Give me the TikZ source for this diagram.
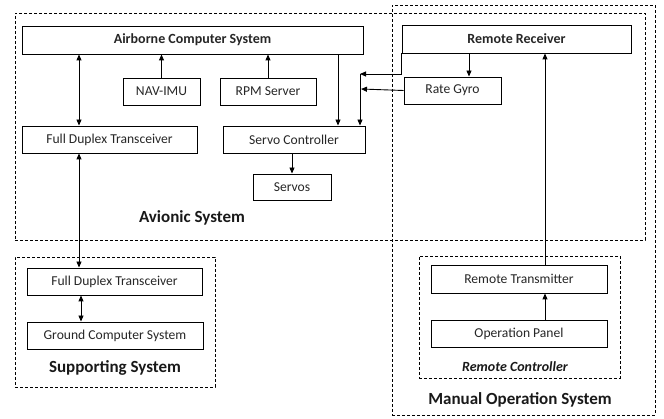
\documentclass[tikz,border=0pt]{standalone}
\usepackage{fontspec}
\setmainfont{Carlito}
\usetikzlibrary{arrows.meta}
\begin{document}
\begin{tikzpicture}[x=1pt,y=-1pt,
  blk/.style={draw, line width=0.9pt, inner sep=0pt, text=black!85, font=\fontsize{13.6}{15}\selectfont},
  bblk/.style={blk, font=\bfseries\fontsize{14}{16}\selectfont},
  grp/.style={draw, line width=0.8pt, dash pattern=on 3pt off 2pt, inner sep=0pt},
  ttl/.style={font=\bfseries\fontsize{17}{19}\selectfont, text=black!90},
  arr/.style={line width=0.9pt, -{Triangle[length=6pt,width=5pt]}},
  darr/.style={line width=0.9pt, {Triangle[length=6pt,width=5pt]}-{Triangle[length=6pt,width=5pt]}}]
\useasboundingbox (0,0) rectangle (664,419);
% groups
\node[grp, minimum width=630pt, minimum height=227pt] (avionic) at (330,126.5) {};
\node[grp, minimum width=263pt, minimum height=410pt] (manual) at (523.5,210) {};
\node[grp, minimum width=200pt, minimum height=130pt] (support) at (115,322) {};
\node[grp, minimum width=201pt, minimum height=122pt] (rc) at (519.5,317) {};
% blocks
\node[bblk, minimum width=341pt, minimum height=28pt] (acs) at (192.5,40) {Airborne Computer System};
\node[blk, minimum width=77pt, minimum height=27pt] (nav) at (161.5,91.5) {NAV-IMU};
\node[blk, minimum width=96pt, minimum height=27pt] (rpm) at (268,91.5) {RPM Server};
\node[blk, minimum width=175pt, minimum height=27pt] (fdt1) at (109.5,139.5) {Full Duplex Transceiver};
\node[blk, minimum width=142pt, minimum height=27pt] (sc) at (294,139.5) {Servo Controller};
\node[blk, minimum width=78pt, minimum height=26pt] (servos) at (292,187) {Servos};
\node[bblk, minimum width=229pt, minimum height=28pt] (rr) at (516.5,39) {Remote Receiver};
\node[blk, minimum width=97pt, minimum height=27pt] (rg) at (452.5,90.5) {Rate Gyro};
\node[blk, minimum width=175pt, minimum height=27pt] (fdt2) at (114.5,281.5) {Full Duplex Transceiver};
\node[blk, minimum width=176pt, minimum height=27pt] (gcs) at (115,335.5) {Ground Computer System};
\node[blk, minimum width=176pt, minimum height=28pt] (rt) at (519,279) {Remote Transmitter};
\node[blk, minimum width=176pt, minimum height=27pt] (op) at (519,333.5) {Operation Panel};
% labels
\node[ttl] (lav) at (192,218) {Avionic System};
\node[ttl] (lsu) at (115,368) {Supporting System};
\node[font=\bfseries\itshape\fontsize{14}{16}\selectfont, text=black!90] (lrc) at (515,367) {Remote Controller};
\node[ttl] (lma) at (520,400) {Manual Operation System};
% helper coordinates
\coordinate (x79) at (79,0);
\coordinate (x81) at (81,0);
\coordinate (x338) at (338,0);
\coordinate (x469) at (469,0);
\coordinate (x545) at (545,0);
\coordinate (j1) at (360,74);
\coordinate (j2) at (361,89);
% connectors
\draw[darr] (acs.south -| x79) -- (fdt1.north -| x79);
\draw[arr] (nav.north) -- (nav.north |- acs.south);
\draw[arr] (rpm.north) -- (rpm.north |- acs.south);
\draw[arr] (acs.south -| x338) -- (sc.north -| x338);
\draw[arr] (rr.south west) |- (j1);
\draw[arr] (j1) -- (sc.north -| j1);
\draw[arr] (rg.west) -- (j2);
\draw[arr] (rr.south -| x469) -- (rg.north -| x469);
\draw[arr] (sc.south -| servos.north) -- (servos.north);
\draw[darr] (fdt1.south -| x79) -- (fdt2.north -| x79);
\draw[darr] (fdt2.south -| x81) -- (gcs.north -| x81);
\draw[arr] (op.north -| x545) -- (rt.south -| x545);
\draw[arr] (rt.north -| x545) -- (rr.south -| x545);
\end{tikzpicture}
\end{document}
